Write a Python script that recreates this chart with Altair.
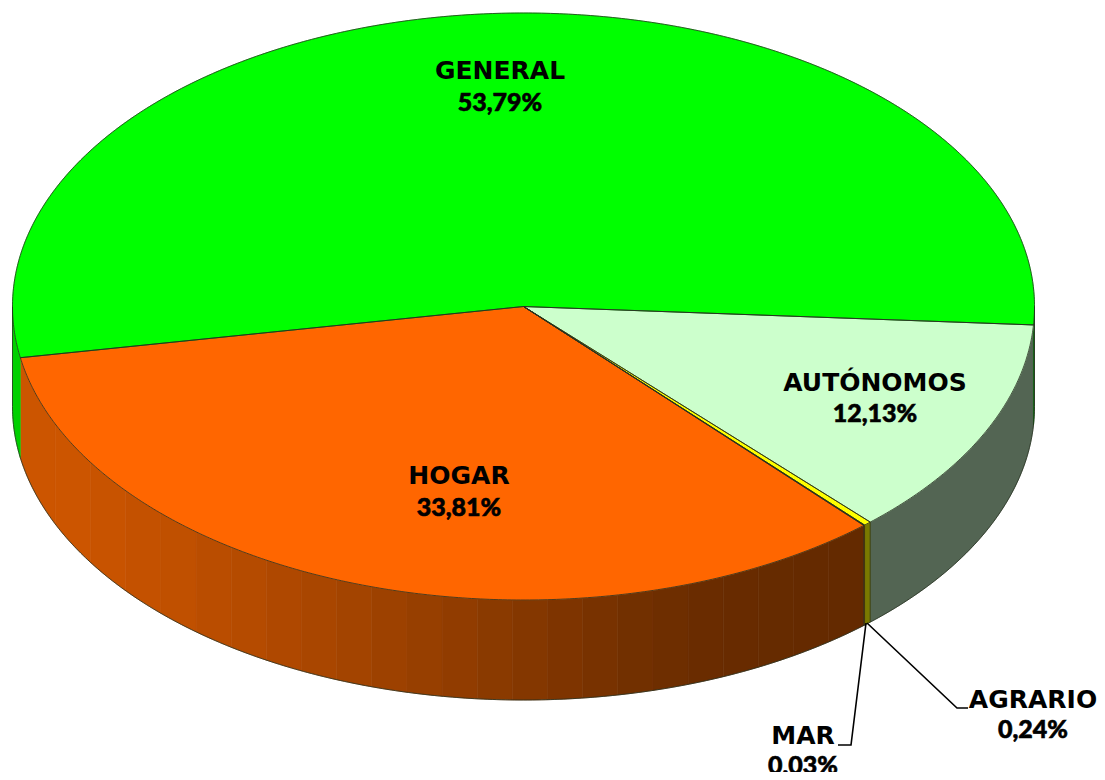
import math
import altair as alt

# Slices, clockwise from the start of the first one
names = ["AUTÓNOMOS", "AGRARIO", "MAR", "HOGAR", "GENERAL"]
shares = [12.13, 0.24, 0.03, 33.81, 53.79]
share_labels = ["12,13%", "0,24%", "0,03%", "33,81%", "53,79%"]
top_colors = ["#CCFFCC", "#FFFF00", "#808000", "#FF6600", "#00FF00"]
wall_colors = ["#536553", "#7A7A00", "#403000", None, "#00D000"]
right_wall_green = "#005A00"

# Shading of the HOGAR wall, left to right
hogar_shades = ["#CC5500", "#CC5500", "#C85300", "#C45100", "#C05000", "#BA4D00",
                "#B54B00", "#AF4800", "#A94600", "#A34400", "#9D4100", "#973F00",
                "#913C00", "#8A3A00", "#843700", "#7E3400", "#783200", "#723000",
                "#6E2E00", "#6A2C00", "#682B00", "#662B00", "#652A00", "#642A00"]

# Label anchors (centre x, baseline y) on the page
label_x = [875, 1033, 803, 459, 500]
name_y = [391, 708, 744, 484, 79]
value_y = [422, 738, 774, 516, 111]

# Leader lines
leaders = [[[867, 623], [957, 708], [968, 708]],
           [[866, 623], [851, 745], [838, 745]]]

# Canvas in page coordinates: the projection fits to it, which keeps them 1:1
W, H = 1089, 764
frame = [[8, 8], [8 + W, 8], [8 + W, 8 + H], [8, 8 + H], [8, 8]]

# Pie geometry
CX, CY, RX, RY, DEPTH = 523.5, 306.5, 511.0, 293.5, 100.0
START = 3.6
PROJ = dict(type="identity")


def pt(a, dy=0.0):
    r = math.radians(a)
    return [CX + RX * math.cos(r), CY + RY * math.sin(r) + dy]


def arc(a0, a1, dy=0.0, step=0.5):
    n = max(1, int(abs(a1 - a0) / step))
    return [pt(a0 + (a1 - a0) * i / n, dy) for i in range(n + 1)]


def feature(kind, coords, fill=None):
    return {"type": "Feature", "properties": {"fill": fill or "none"},
            "geometry": {"type": kind, "coordinates": coords}}


def wall_ring(a0, a1):
    return arc(a0, a1) + arc(a1, a0, DEPTH) + [pt(a0)]


spans = []
a = START
for s in shares:
    spans.append((a, a + s * 3.6))
    a += s * 3.6

tops, walls, edges = [], [], []
for (a0, a1), c in zip(spans, top_colors):
    ring = [[CX, CY]] + arc(a0, a1) + [[CX, CY]]
    tops.append(feature("Polygon", [ring], c))
    edges.append(feature("LineString", ring))

# side wall, only the front half shows
for (a0, a1), c in zip(spans, wall_colors):
    lo, hi = max(a0, 0), min(a1, 180)
    if hi <= lo:
        continue
    if c is not None:
        walls.append(feature("Polygon", [wall_ring(lo, hi)], c))
    else:
        x_hi, x_lo = pt(lo)[0], pt(hi)[0]
        n = len(hogar_shades)
        for i, shade in enumerate(hogar_shades):
            xa = x_lo + (x_hi - x_lo) * i / n
            xb = x_lo + (x_hi - x_lo) * (i + 1) / n
            aa = math.degrees(math.acos((xa - CX) / RX))
            ab = math.degrees(math.acos((xb - CX) / RX))
            walls.append(feature("Polygon", [wall_ring(ab, aa)], shade))
walls.append(feature("Polygon", [wall_ring(0, START)], right_wall_green))

edges.append(feature("LineString", arc(0, 180, DEPTH)))
edges.append(feature("LineString", [pt(0), pt(0, DEPTH)]))
edges.append(feature("LineString", [pt(180), pt(180, DEPTH)]))
edges.append(feature("LineString", [pt(spans[0][1]), pt(spans[0][1], DEPTH)]))
edges.append(feature("LineString", [pt(spans[2][1]), pt(spans[2][1], DEPTH)]))

leader_feats = [feature("LineString", l) for l in leaders]


def shapes(feats):
    return alt.Chart(alt.Data(values=feats)).mark_geoshape(strokeWidth=0.6).encode(
        fill=alt.Fill("properties.fill:N", scale=None),
        stroke=alt.Stroke("properties.fill:N", scale=None),
    ).project(**PROJ)


def lines(feats, color, width, opacity=1.0):
    return alt.Chart(alt.Data(values=feats)).mark_geoshape(
        filled=False, stroke=color, strokeWidth=width, strokeOpacity=opacity
    ).project(**PROJ)


name_rows = [{"t": n, "x": x - 8, "y": y - 8} for n, x, y in zip(names, label_x, name_y)]
value_rows = [{"t": v, "x": x - 8, "y": y - 8} for v, x, y in zip(share_labels, label_x, value_y)]
pos = dict(x=alt.X("x:Q", scale=None, axis=None), y=alt.Y("y:Q", scale=None, axis=None), text="t:N")

name_text = alt.Chart(alt.Data(values=name_rows)).mark_text(
    font="DejaVu Sans", fontWeight="bold", fontSize=25, color="#000000",
    align="center", baseline="alphabetic"
).encode(**pos)

value_text = alt.Chart(alt.Data(values=value_rows)).mark_text(
    font="Lato", fontWeight=900, fontSize=25, color="#000000", stroke="#000000", strokeWidth=0.6,
    align="center", baseline="alphabetic"
).encode(**pos)

chart = alt.layer(
    lines([feature("LineString", frame)], "#FFFFFF", 0.1, 0.0),
    shapes(walls), shapes(tops),
    lines(edges, "#26301f", 0.8),
    lines(leader_feats, "#000000", 1.6),
    name_text, value_text,
).properties(width=W, height=H, padding=0, background="#FFFFFF",
             autosize=alt.AutoSizeParams(type="none")).configure_view(stroke=None)

chart.save("out.html", embed_options={"renderer": "svg", "actions": False})
